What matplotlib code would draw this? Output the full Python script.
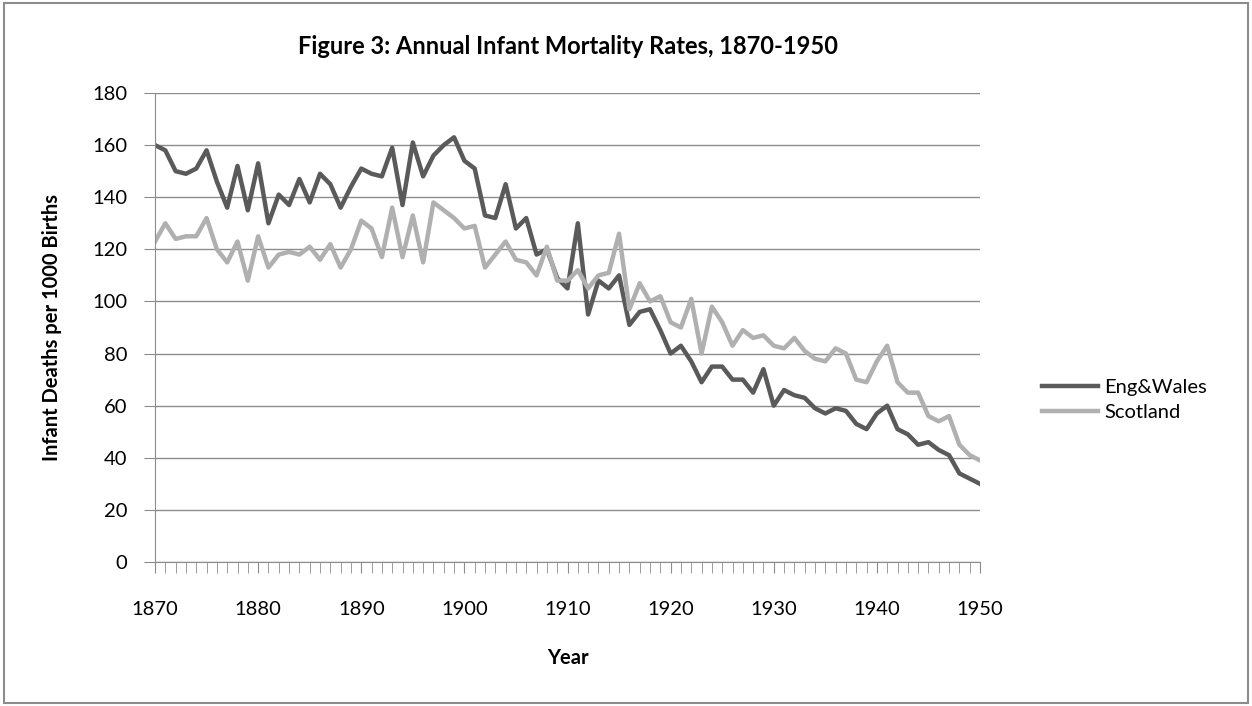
import matplotlib
matplotlib.use("Agg")
import matplotlib.pyplot as plt
from matplotlib.ticker import MultipleLocator
from matplotlib.patches import Rectangle

years = list(range(1870, 1951))

eng_wales = [160, 158, 150, 149, 151, 158, 146, 136, 152, 135,
             153, 130, 141, 137, 147, 138, 149, 145, 136, 144,
             151, 149, 148, 159, 137, 161, 148, 156, 160, 163,
             154, 151, 133, 132, 145, 128, 132, 118, 120, 109,
             105, 130, 95, 108, 105, 110, 91, 96, 97, 89,
             80, 83, 77, 69, 75, 75, 70, 70, 65, 74,
             60, 66, 64, 63, 59, 57, 59, 58, 53, 51,
             57, 60, 51, 49, 45, 46, 43, 41, 34, 32,
             30]

scotland = [123, 130, 124, 125, 125, 132, 120, 115, 123, 108,
            125, 113, 118, 119, 118, 121, 116, 122, 113, 120,
            131, 128, 117, 136, 117, 133, 115, 138, 135, 132,
            128, 129, 113, 118, 123, 116, 115, 110, 121, 108,
            108, 112, 105, 110, 111, 126, 97, 107, 100, 102,
            92, 90, 101, 80, 98, 92, 83, 89, 86, 87,
            83, 82, 86, 81, 78, 77, 82, 80, 70, 69,
            77, 83, 69, 65, 65, 56, 54, 56, 45, 41,
            39]

plt.rcParams['font.family'] = ['Lato', 'DejaVu Sans']

fig = plt.figure(figsize=(12.52, 7.06), dpi=100)
fig.patches.append(Rectangle((0.003, 0.004), 0.994, 0.992, transform=fig.transFigure,
                             fill=False, edgecolor='#8c8c8c', linewidth=1.5))

ax = fig.add_axes([155 / 1252, 1 - 562 / 706, (980 - 155) / 1252, (562 - 93) / 706])

ax.plot(years, eng_wales, color='#5a5a5a', lw=3.2, label='Eng&Wales', solid_joinstyle='round')
ax.plot(years, scotland, color='#b0b0b0', lw=3.2, label='Scotland', solid_joinstyle='round')

ax.set_xlim(1870, 1950)
ax.set_ylim(0, 180)
ax.yaxis.set_major_locator(MultipleLocator(20))
ax.xaxis.set_major_locator(MultipleLocator(10))
ax.xaxis.set_minor_locator(MultipleLocator(1))
ax.grid(True, axis='y', color='#8c8c8c', lw=1)
ax.set_axisbelow(True)

for side in ['top', 'right']:
    ax.spines[side].set_visible(False)
for side in ['left', 'bottom']:
    ax.spines[side].set_color('#8c8c8c')

ax.tick_params(axis='both', which='both', direction='out', color='#8c8c8c', labelsize=14.5)
ax.tick_params(axis='x', which='both', length=8, pad=20)
ax.tick_params(axis='y', length=8, pad=12)

ax.set_xlabel('Year', fontsize=14.5, fontweight='bold', labelpad=22)
ax.set_ylabel('Infant Deaths per 1000 Births', fontsize=14.5, fontweight='bold', labelpad=22)
ax.set_title('Figure 3: Annual Infant Mortality Rates, 1870-1950', fontsize=17,
             fontweight='bold', pad=28)

ax.legend(loc='center left', bbox_to_anchor=(1.053, 0.345), frameon=False,
          fontsize=14.5, handlelength=2.8, handletextpad=0.3, labelspacing=0.4)

fig.savefig('out.png', dpi=100)
